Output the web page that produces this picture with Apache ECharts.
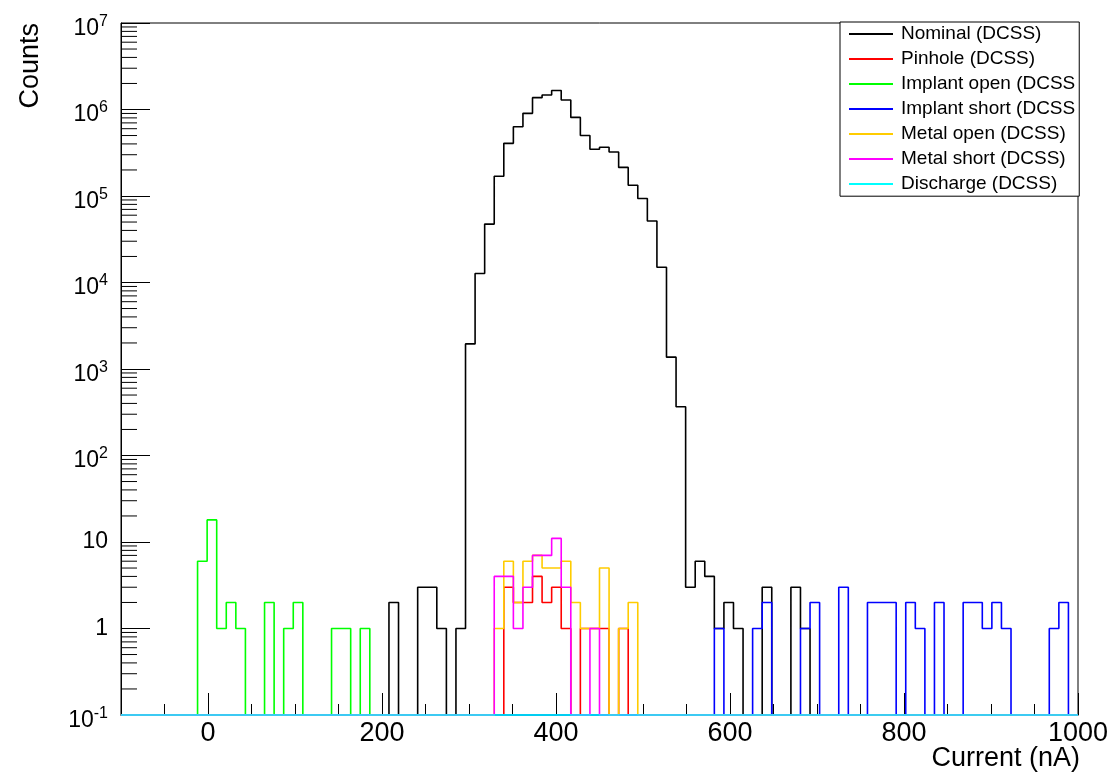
<!DOCTYPE html>
<html><head><meta charset="utf-8">
<script src="https://cdn.jsdelivr.net/npm/echarts@6/dist/echarts.min.js"></script>
<style>html,body{margin:0;padding:0;background:#fff}#c{width:1116px;height:778px}</style>
</head><body><div id="c"></div>
<script>
// ---- axis set-up ----
const binStart = -100;
const binWidth = 11;
const nBins = 100;
const xMin = -100, xMax = 1000;
const yMin = 0.1, yMax = 1e7;
const xMajorTicks = [0, 200, 400, 600, 800, 1000];
const xMinorStep = 50;
const yDecades = [0.1, 1, 10, 100, 1e3, 1e4, 1e5, 1e6];
const yMinorMultipliers = [2, 3, 4, 5, 6, 7, 8, 9];

// ---- series (counts per 11 nA bin, starting at bin index firstBin) ----
const seriesNames = ['Nominal (DCSS)', 'Pinhole (DCSS)', 'Implant open (DCSS)', 'Implant short (DCSS)',
                     'Metal open (DCSS)', 'Metal short (DCSS)', 'Discharge (DCSS)'];
const seriesColors = ['#000000', '#ff0000', '#00ff00', '#0000ff', '#ffcc00', '#ff00ff', '#00ffff'];

const nominalFirstBin = 28;
const nominalCounts = [2, 0, 0, 3, 3, 1, 0, 1,
  1950, 12700, 47300, 169000, 406000, 633000, 902000, 1370000, 1470000, 1660000,
  1290000, 810000, 500000, 347000, 366000, 323000, 214000, 133000, 93500, 51500,
  15000, 1370, 366, 3, 6, 4, 1, 2, 1, 0, 0, 3, 0, 0, 3, 1];

const pinholeFirstBin = 40;
const pinholeCounts = [3, 2, 2, 4, 2, 3, 1, 0, 1, 1, 1, 0, 1];

const implantOpenFirstBin = 8;
const implantOpenCounts = [6, 18, 1, 2, 1, 0, 0, 2, 0, 1, 2, 0, 0, 0, 1, 1, 0, 1];

const implantShortFirstBin = 62;
const implantShortCounts = [1, 0, 0, 0, 1, 2, 0, 0, 0, 1, 2, 0, 0, 3, 0, 0, 2, 2, 2, 0,
  2, 1, 0, 2, 0, 0, 2, 2, 1, 2, 1, 0, 0, 0, 0, 1, 2];

const metalOpenFirstBin = 39;
const metalOpenCounts = [1, 6, 2, 6, 7, 5, 5, 6, 2, 1, 1, 5, 0, 1, 2];

const metalShortFirstBin = 39;
const metalShortCounts = [4, 4, 1, 3, 7, 7, 11, 3, 0, 0, 1];

const dischargeFirstBin = 0;
const dischargeCounts = [];

const seriesBins = [
  [nominalFirstBin, nominalCounts], [pinholeFirstBin, pinholeCounts],
  [implantOpenFirstBin, implantOpenCounts], [implantShortFirstBin, implantShortCounts],
  [metalOpenFirstBin, metalOpenCounts], [metalShortFirstBin, metalShortCounts],
  [dischargeFirstBin, dischargeCounts]
];

// histogram outline: one point per bin left edge (zero bins sit on the log floor, as ROOT draws them)
function histLine(firstBin, counts) {
  const pts = [];
  for (let i = 0; i < nBins; i++) {
    const k = i - firstBin;
    const c = (k >= 0 && k < counts.length) ? counts[k] : 0;
    pts.push([binStart + i * binWidth, c > 0 ? c : yMin]);
  }
  pts.push([binStart + nBins * binWidth, pts[nBins - 1][1]]);
  return pts;
}

const yMinorTickValues = [];
yDecades.forEach(d => yMinorMultipliers.forEach(m => yMinorTickValues.push(d * m)));

const FONT = '"Liberation Sans", Arial, Helvetica, sans-serif';

const series = seriesNames.map((name, idx) => ({
  name: name,
  type: 'line',
  step: 'end',
  symbol: 'none',
  showSymbol: false,
  clip: false,
  data: histLine(seriesBins[idx][0], seriesBins[idx][1]),
  lineStyle: { color: seriesColors[idx], width: 1.6 },
  itemStyle: { color: seriesColors[idx] },
  z: 2 + idx * 0.01,
  animation: false
}));

series.push({
  type: 'custom',
  silent: true,
  clip: false,
  data: yMinorTickValues.map(v => [xMin, v]),
  encode: { x: 0, y: 1 },
  renderItem: function (params, api) {
    const p = api.coord([api.value(0), api.value(1)]);
    return { type: 'line', shape: { x1: p[0], y1: p[1], x2: p[0] + 16, y2: p[1] },
             style: { stroke: '#000', lineWidth: 1 } };
  },
  z: 3
});

const chart = echarts.init(document.getElementById('c'), null, { renderer: 'canvas' });
chart.setOption({
  animation: false,
  backgroundColor: '#fff',
  grid: { left: 121, right: 38, top: 23, bottom: 63, show: true, borderColor: '#000', borderWidth: 1,
          backgroundColor: 'transparent' },
  legend: {
    data: seriesNames,
    orient: 'vertical',
    left: 840, top: 22,
    itemWidth: 44, itemHeight: 14, itemGap: 6,
    padding: [2.5, 4, 2.7, 8],
    borderColor: '#000', borderWidth: 1, backgroundColor: '#fff',
    selectedMode: false,
    itemStyle: { opacity: 0, color: 'rgba(0,0,0,0)', borderWidth: 0 },
    textStyle: { fontFamily: FONT, fontSize: 19, color: '#000', width: 181, overflow: 'truncate',
                 ellipsis: '', padding: [0, 0, 0, 3] }
  },
  xAxis: [{
    type: 'value', min: xMin, max: xMax, position: 'bottom',
    axisLine: { show: true, onZero: false, lineStyle: { color: '#000', width: 1 } },
    axisTick: { show: true, inside: true, length: 22, customValues: xMajorTicks, lineStyle: { color: '#000' } },
    axisLabel: { show: true, customValues: xMajorTicks, fontFamily: FONT, fontSize: 27, color: '#000', margin: 5,
                 formatter: v => String(v) },
    splitLine: { show: false }
  }, {
    type: 'value', min: xMin, max: xMax, interval: xMinorStep, position: 'bottom',
    axisLine: { show: false, onZero: false },
    axisTick: { show: true, inside: true, length: 11, lineStyle: { color: '#000' } },
    axisLabel: { show: false },
    splitLine: { show: false }
  }],
  yAxis: {
    type: 'log', logBase: 10, min: yMin, max: yMax, splitNumber: 8, position: 'left',
    axisLine: { show: true, onZero: false, lineStyle: { color: '#000', width: 1 } },
    axisTick: { show: true, inside: true, length: 29, lineStyle: { color: '#000' } },
    splitLine: { show: false },
    axisLabel: {
      color: '#000', margin: 13, padding: [10.6, 0, 0, 0],
      formatter: function (v) {
        const n = Math.round(Math.log10(v));
        if (n === 0) return '{p|1}';
        if (n === 1) return '{p|10}';
        return '{b|10}{s|' + n + '}';
      },
      rich: {
        p: { fontFamily: FONT, fontSize: 23, color: '#000', lineHeight: 33.6, verticalAlign: 'top' },
        b: { fontFamily: FONT, fontSize: 23, color: '#000', lineHeight: 30 },
        s: { fontFamily: FONT, fontSize: 16, color: '#000', lineHeight: 16, verticalAlign: 'top' }
      }
    }
  },
  graphic: [
    { type: 'text', x: 31, y: 23, rotation: Math.PI / 2,
      style: { text: 'Counts', font: '27px ' + FONT, fill: '#000', align: 'right', verticalAlign: 'middle' } },
    { type: 'text', right: 36, top: 745,
      style: { text: 'Current (nA)', font: '27px ' + FONT, fill: '#000' } }
  ],
  series: series
});
</script>
</body></html>
